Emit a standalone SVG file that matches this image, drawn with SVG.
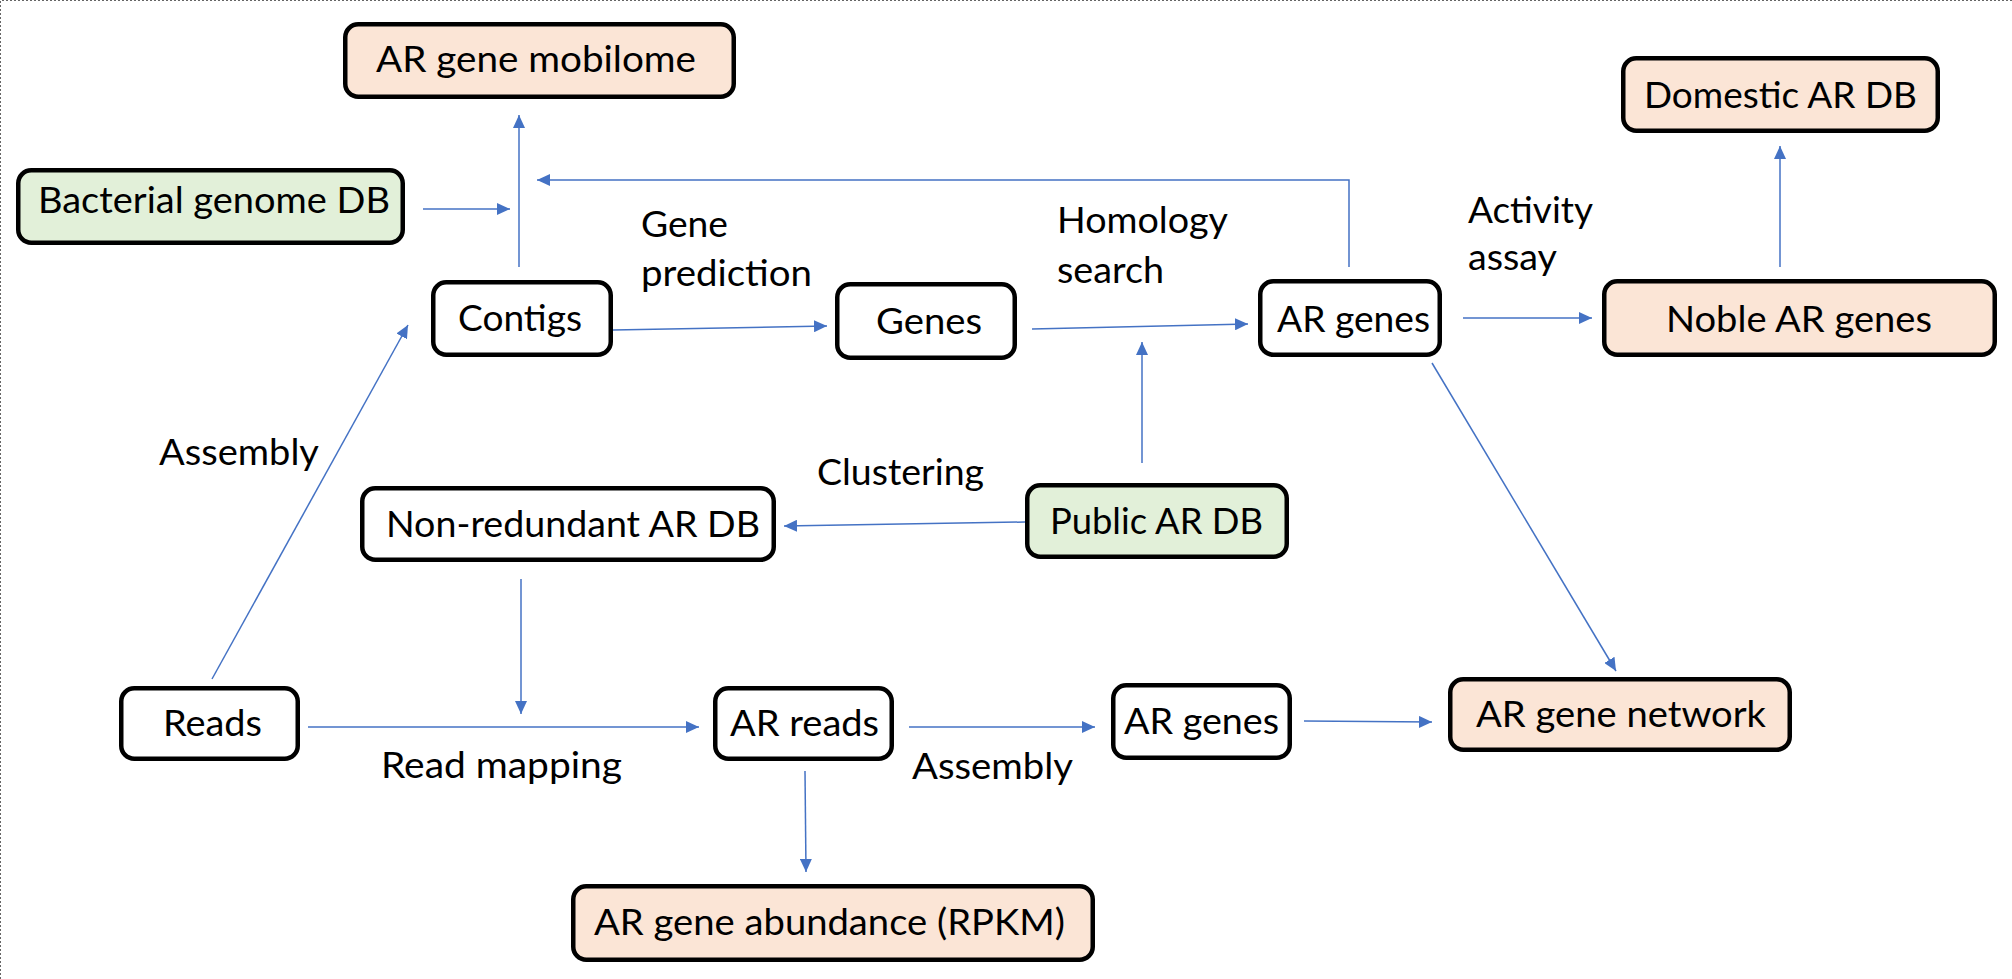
<svg xmlns="http://www.w3.org/2000/svg" width="2012" height="979" viewBox="0 0 2012 979">
<style>
.box{stroke:#000;stroke-width:4.5;fill:#fff}
.peach{fill:#FBE5D6}
.green{fill:#E2F0D9}
text{font-family:Lato,"Open Sans","Liberation Sans",sans-serif;font-size:36px;fill:#000}
.c{fill:none;stroke:#4472C4;stroke-width:1.5;marker-end:url(#ah)}
</style>
<defs>
<marker id="ah" markerUnits="userSpaceOnUse" markerWidth="14" markerHeight="12" refX="13" refY="6" orient="auto">
<path d="M0,0 L13,6 L0,12 z" fill="#4472C4"/>
</marker>
</defs>
<rect width="2012" height="979" fill="#fff"/>
<path d="M0.5,979 V0.5 H2012" fill="none" stroke="#666" stroke-width="1" stroke-dasharray="2,2"/>
<g id="connectors">
<path class="c" d="M519,267 V115"/>
<path class="c" d="M423,209 H510"/>
<path class="c" d="M1349,267 V180 H537"/>
<path class="c" d="M212,679 L408,325"/>
<path class="c" d="M613,330 L827,326"/>
<path class="c" d="M1032,329 L1248,324"/>
<path class="c" d="M1142,463 V342"/>
<path class="c" d="M1463,318 H1592"/>
<path class="c" d="M1780,267 V146"/>
<path class="c" d="M1432,363 L1616,671"/>
<path class="c" d="M1025,522 L784,526"/>
<path class="c" d="M521,579 V714"/>
<path class="c" d="M308,727 H699"/>
<path class="c" d="M805,771 L806,872"/>
<path class="c" d="M909,727 H1095"/>
<path class="c" d="M1304,721 L1432,722"/>
</g>
<g id="labels">
<text x="641" y="237" textLength="87" lengthAdjust="spacingAndGlyphs">Gene</text>
<text x="641" y="286" textLength="171" lengthAdjust="spacingAndGlyphs">prediction</text>
<text x="1057" y="233" textLength="171" lengthAdjust="spacingAndGlyphs">Homology</text>
<text x="1057" y="283" textLength="107" lengthAdjust="spacingAndGlyphs">search</text>
<text x="1468" y="223" textLength="125" lengthAdjust="spacingAndGlyphs">Activity</text>
<text x="1468" y="270" textLength="89" lengthAdjust="spacingAndGlyphs">assay</text>
<text x="159" y="465" textLength="160" lengthAdjust="spacingAndGlyphs">Assembly</text>
<text x="817" y="485" textLength="167" lengthAdjust="spacingAndGlyphs">Clustering</text>
<text x="381" y="778" textLength="241" lengthAdjust="spacingAndGlyphs">Read mapping</text>
<text x="912" y="779" textLength="161" lengthAdjust="spacingAndGlyphs">Assembly</text>
</g>
<g id="mobilome">
<rect class="box peach" x="345.25" y="24.25" width="388.5" height="72.5" rx="13"/>
<text x="376" y="72" textLength="320" lengthAdjust="spacingAndGlyphs">AR gene mobilome</text>
</g>
<g id="bacterial">
<rect class="box green" x="18.25" y="170.25" width="384.5" height="72.5" rx="13"/>
<text x="38" y="213" textLength="352" lengthAdjust="spacingAndGlyphs">Bacterial genome DB</text>
</g>
<g id="contigs">
<rect class="box" x="433.25" y="282.25" width="177.5" height="72.5" rx="13"/>
<text x="458" y="331" textLength="124" lengthAdjust="spacingAndGlyphs">Contigs</text>
</g>
<g id="genes">
<rect class="box" x="837.25" y="284.25" width="177.5" height="73.5" rx="13"/>
<text x="876" y="334" textLength="106" lengthAdjust="spacingAndGlyphs">Genes</text>
</g>
<g id="ar-genes-top">
<rect class="box" x="1260.25" y="281.25" width="179.5" height="73.5" rx="13"/>
<text x="1277" y="332" textLength="153" lengthAdjust="spacingAndGlyphs">AR genes</text>
</g>
<g id="noble">
<rect class="box peach" x="1604.25" y="281.25" width="390.5" height="73.5" rx="13"/>
<text x="1666" y="332" textLength="266" lengthAdjust="spacingAndGlyphs">Noble AR genes</text>
</g>
<g id="domestic">
<rect class="box peach" x="1623.25" y="58.25" width="314.5" height="72.5" rx="13"/>
<text x="1644" y="108" textLength="273" lengthAdjust="spacingAndGlyphs">Domestic AR DB</text>
</g>
<g id="nonredundant">
<rect class="box" x="362.25" y="488.25" width="411.5" height="71.5" rx="13"/>
<text x="386" y="537" textLength="374" lengthAdjust="spacingAndGlyphs">Non-redundant AR DB</text>
</g>
<g id="public">
<rect class="box green" x="1027.25" y="485.25" width="259.5" height="71.5" rx="13"/>
<text x="1050" y="534" textLength="213" lengthAdjust="spacingAndGlyphs">Public AR DB</text>
</g>
<g id="reads">
<rect class="box" x="121.25" y="688.25" width="176.5" height="70.5" rx="13"/>
<text x="163" y="736" textLength="99" lengthAdjust="spacingAndGlyphs">Reads</text>
</g>
<g id="ar-reads">
<rect class="box" x="715.25" y="688.25" width="176.5" height="70.5" rx="13"/>
<text x="730" y="736" textLength="149" lengthAdjust="spacingAndGlyphs">AR reads</text>
</g>
<g id="ar-genes-bottom">
<rect class="box" x="1113.25" y="685.25" width="176.5" height="72.5" rx="13"/>
<text x="1124" y="734" textLength="155" lengthAdjust="spacingAndGlyphs">AR genes</text>
</g>
<g id="network">
<rect class="box peach" x="1450.25" y="679.25" width="339.5" height="70.5" rx="13"/>
<text x="1476" y="727" textLength="290" lengthAdjust="spacingAndGlyphs">AR gene network</text>
</g>
<g id="abundance">
<rect class="box peach" x="573.25" y="886.25" width="519.5" height="73.5" rx="13"/>
<text x="594" y="935" textLength="471" lengthAdjust="spacingAndGlyphs">AR gene abundance (RPKM)</text>
</g>
</svg>
